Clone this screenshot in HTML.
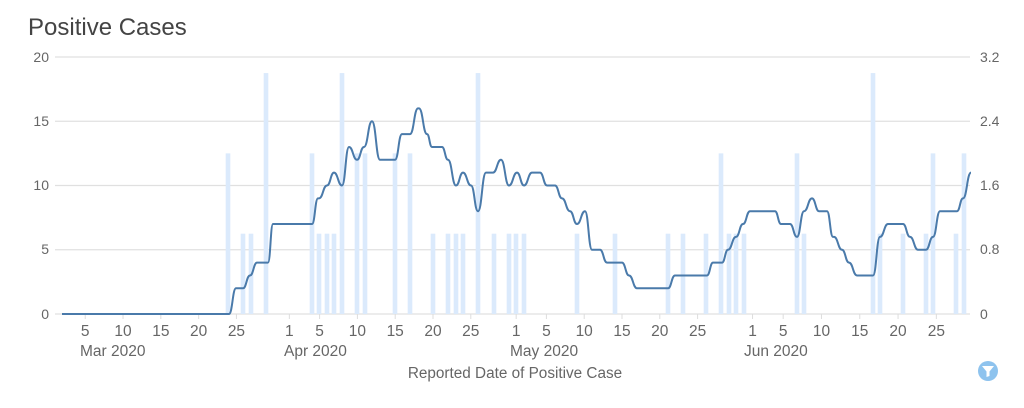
<!DOCTYPE html>
<html><head><meta charset="utf-8"><style>
body{margin:0;background:#fff;width:1024px;height:403px;overflow:hidden;font-family:"Liberation Sans",sans-serif}
</style></head><body>
<svg width="1024" height="403" xmlns="http://www.w3.org/2000/svg" font-family="Liberation Sans, sans-serif">
<text x="28" y="35" font-size="24" fill="#444">Positive Cases</text>
<g stroke="#e0e0e0" stroke-width="1.2">
<line x1="55" x2="970" y1="57" y2="57"/><line x1="55" x2="970" y1="121.25" y2="121.25"/>
<line x1="55" x2="970" y1="185.5" y2="185.5"/><line x1="55" x2="970" y1="249.75" y2="249.75"/>
<line x1="55" x2="970" y1="314" y2="314"/>
</g>
<g font-size="14" fill="#666" text-anchor="end">
<text x="49" y="62">20</text><text x="49" y="126">15</text><text x="49" y="190">10</text><text x="49" y="254">5</text><text x="49" y="319">0</text>
</g>
<g font-size="14" fill="#666" text-anchor="start">
<text x="980" y="62">3.2</text><text x="980" y="126">2.4</text><text x="980" y="190">1.6</text><text x="980" y="254">0.8</text><text x="980" y="319">0</text>
</g>
<g id="bars" fill="#dbeafc"></g>
<g id="ticks" stroke="#ddd"></g>
<g id="tl" font-size="15.5" fill="#666" text-anchor="middle"></g>
<g font-size="15.5" fill="#666">
<text x="80" y="356">Mar 2020</text><text x="284" y="356">Apr 2020</text><text x="510" y="356">May 2020</text><text x="744" y="356">Jun 2020</text>
</g>
<text x="515" y="378" font-size="15.3" fill="#666" text-anchor="middle">Reported Date of Positive Case</text>
<path id="ln" fill="none" stroke="#4a7aaa" stroke-width="2"/>
<circle cx="988" cy="371" r="10" fill="#8ec3ee"/>
<path d="M982 366 L994 366 L989.5 371.5 L989.5 376 L986.5 377 L986.5 371.5 Z" fill="#fff"/>
</svg>
<script>
var bars=[[228,2],[243,1],[251,1],[266,3],[312,2],[319,1],[327,1],[334,1],[342,3],[357,2],[365,2],[395,2],[410,2],[433,1],[448,1],[456,1],[463,1],[478,3],[494,1],[509,1],[516,1],[524,1],[577,1],[615,1],[668,1],[683,1],[706,1],[721,2],[729,1],[736,1],[744,1],[797,2],[804,1],[873,3],[880,1],[903,1],[926,1],[933,2],[956,1],[964,2]];
var s="";
bars.forEach(function(b){var h=b[1]/3.2*257;s+='<rect x="'+(b[0]-2.3)+'" y="'+(314-h)+'" width="4.6" height="'+h+'"/>';});
document.getElementById("bars").innerHTML=s;
var t="",tl="",lab=[[4,"5"],[9,"10"],[14,"15"],[19,"20"],[24,"25"],[31,"1"],[35,"5"],[40,"10"],[45,"15"],[50,"20"],[55,"25"],[61,"1"],[65,"5"],[70,"10"],[75,"15"],[80,"20"],[85,"25"],[92,"1"],[96,"5"],[101,"10"],[106,"15"],[111,"20"],[116,"25"]];
lab.forEach(function(l){var x=55+l[0]*7.56+(l[0]>=92?(l[0]-92)*0.1+2:0);t+='<line x1="'+x+'" x2="'+x+'" y1="314" y2="319"/>';tl+='<text x="'+x+'" y="336">'+l[1]+'</text>';});
document.getElementById("ticks").innerHTML=t;document.getElementById("tl").innerHTML=tl;
var p=[[62,0],[229,0],[236,2],[243,2],[250,3],[257,4],[268,4],[273,7],[312,7],[318,9],[327,10],[334,11],[342,10],[349,13],[357,12],[364,13],[372,15],[380,12],[395,12],[402,14],[410,14],[418,16],[427,14],[432,13],[442,13],[448,12],[456,10],[463,11],[471,10],[478,8],[486,11],[493,11],[501,12],[509,10],[517,11],[524,10],[532,11],[540,11],[547,10],[555,10],[562,9],[570,8],[577,7],[585,8],[592,5],[600,5],[607,4],[622,4],[629,3],[637,2],[668,2],[675,3],[707,3],[713,4],[722,4],[728,5],[736,6],[743,7],[750,8],[775,8],[781,7],[790,7],[797,6],[804,8],[812,9],[819,8],[827,8],[833,6],[842,5],[849,4],[857,3],[873,3],[880,6],[888,7],[903,7],[910,6],[918,5],[926,5],[933,6],[940,8],[957,8],[963,9],[971,11]];
function Y(v){return 314-v*12.85;}
var d="M"+p[0][0]+" "+Y(p[0][1]);
for(var i=1;i<p.length;i++){var a=p[i-1],b=p[i];
var x0=b[0]-Math.min((b[0]-a[0]),8),m=(b[0]-x0)/2;
d+=" L"+x0+" "+Y(a[1]);
d+=" C"+(x0+m)+" "+Y(a[1])+" "+(b[0]-m)+" "+Y(b[1])+" "+b[0]+" "+Y(b[1]);}
document.getElementById("ln").setAttribute("d",d);
</script>
</body></html>
